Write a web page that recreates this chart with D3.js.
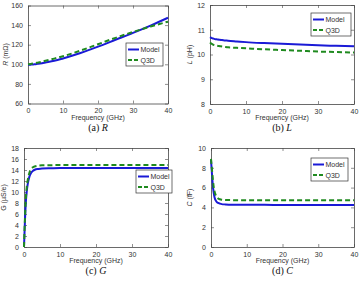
<!DOCTYPE html>
<html>
<head>
<meta charset="utf-8">
<script src="https://cdn.jsdelivr.net/npm/d3@7"></script>
<style>
  body { margin: 0; background: #fff; }
  svg { display: block; }
  .tick text { font-family: "Liberation Sans", Arial, sans-serif; font-size: 7px; fill: #333; }
  .lab { font-family: "Liberation Sans", Arial, sans-serif; font-size: 7px; fill: #333; }
  .cap { font-family: "Liberation Serif", "Times New Roman", serif; font-size: 10px; fill: #111; }
</style>
</head>
<body>
<svg width="359" height="286"></svg>
<script>
// frequency grid (GHz)
var freq = [0, 0.25, 0.5, 0.75, 1, 1.5, 2, 2.5, 3, 4, 5, 7.5, 10, 15, 20, 25, 30, 35, 40];

var rModel = [99.5, 99.5, 99.6, 99.6, 99.7, 99.9, 100.1, 100.3, 100.6, 101.1, 101.8, 103.6, 106, 111.5, 118, 125, 132, 139.5, 147.5];
var rQ3d   = [100, 100.1, 100.2, 100.3, 100.5, 100.8, 101.1, 101.5, 101.9, 102.7, 103.6, 105.8, 108.2, 114, 120.5, 127, 133, 138.5, 143.5];

var lModel = [10.7, 10.68, 10.66, 10.65, 10.64, 10.62, 10.61, 10.6, 10.59, 10.57, 10.56, 10.53, 10.5, 10.46, 10.43, 10.4, 10.37, 10.35, 10.33];
var lQ3d   = [10.48, 10.45, 10.43, 10.41, 10.39, 10.37, 10.35, 10.34, 10.33, 10.31, 10.29, 10.27, 10.25, 10.21, 10.18, 10.15, 10.12, 10.1, 10.08];

var gModel = [0, 4.5, 8, 10, 11.3, 12.8, 13.5, 13.85, 14.05, 14.2, 14.28, 14.32, 14.35, 14.35, 14.35, 14.35, 14.35, 14.35, 14.35];
var gQ3d   = [0, 5, 8.7, 10.8, 12, 13.5, 14.2, 14.5, 14.65, 14.8, 14.85, 14.88, 14.9, 14.9, 14.9, 14.9, 14.9, 14.9, 14.9];

var cModel = [8.8, 7.5, 6.3, 5.5, 5.0, 4.6, 4.45, 4.38, 4.33, 4.3, 4.28, 4.27, 4.26, 4.26, 4.25, 4.25, 4.25, 4.25, 4.25];
var cQ3d   = [8.9, 7.9, 6.9, 6.1, 5.6, 5.1, 4.9, 4.82, 4.78, 4.75, 4.74, 4.73, 4.73, 4.72, 4.72, 4.72, 4.72, 4.72, 4.72];

var xTicks = [0, 10, 20, 30, 40];
var seriesNames = ["Model", "Q3D"];

var svg = d3.select("svg");

function panel(p) {
  var x = d3.scaleLinear().domain([0, 40]).range([p.x0, p.x1]);
  var y = d3.scaleLinear().domain(p.ydom).range([p.y1, p.y0]);
  var g = svg.append("g");

  // axes, ticks inward
  g.append("g").attr("transform", "translate(0," + p.y1 + ")")
    .call(d3.axisBottom(x).tickValues(xTicks).tickFormat(d3.format("d")).tickSizeInner(-3).tickSizeOuter(0).tickPadding(5));
  g.append("g").attr("transform", "translate(" + p.x0 + ",0)")
    .call(d3.axisLeft(y).tickValues(p.yticks).tickFormat(d3.format("d")).tickSizeInner(-3).tickSizeOuter(0).tickPadding(5));
  g.append("g").attr("transform", "translate(0," + p.y0 + ")")
    .call(d3.axisTop(x).tickValues(xTicks).tickSizeInner(-3).tickSizeOuter(0).tickFormat(""));
  g.append("g").attr("transform", "translate(" + p.x1 + ",0)")
    .call(d3.axisRight(y).tickValues(p.yticks).tickSizeInner(-3).tickSizeOuter(0).tickFormat(""));
  g.selectAll(".domain").attr("stroke", "#444").attr("stroke-width", 0.8);
  g.selectAll(".tick line").attr("stroke", "#444").attr("stroke-width", 0.6);

  var line = d3.line().x(function(d, i) { return x(freq[i]); }).y(function(d) { return y(d); })
    .curve(d3.curveMonotoneX);

  g.append("path").attr("d", line(p.model)).attr("fill", "none")
    .attr("stroke", "#1a1ad6").attr("stroke-width", 2);
  g.append("path").attr("d", line(p.q3d)).attr("fill", "none")
    .attr("stroke", "#1f8a1f").attr("stroke-width", 2).attr("stroke-dasharray", "5,3");

  // labels
  g.append("text").attr("class", "lab").attr("text-anchor", "middle")
    .attr("x", (p.x0 + p.x1) / 2).attr("y", p.y1 + 16).text("Frequency (GHz)");
  var yl = g.append("text").attr("class", "lab").attr("text-anchor", "middle")
    .attr("transform", "translate(" + p.ylx + "," + ((p.y0 + p.y1) / 2) + ") rotate(-90)");
  yl.append("tspan").attr("font-style", p.yitalic ? "italic" : "normal").text(p.ysym);
  yl.append("tspan").text(" " + p.yunit);

  var cap = g.append("text").attr("class", "cap").attr("text-anchor", "middle")
    .attr("x", (p.x0 + p.x1) / 2).attr("y", p.y1 + 27);
  cap.append("tspan").text(p.cap + " ");
  cap.append("tspan").attr("font-style", "italic").text(p.ysym);

  // legend
  var lg = g.append("g").attr("transform", "translate(" + p.lx + "," + p.ly + ")");
  lg.append("rect").attr("width", p.lw).attr("height", 23).attr("fill", "#fff")
    .attr("stroke", "#333").attr("stroke-width", 0.7);
  seriesNames.forEach(function(n, i) {
    var yy = 6.5 + i * 10.5;
    lg.append("line").attr("x1", 2).attr("x2", 13).attr("y1", yy).attr("y2", yy)
      .attr("stroke", i == 0 ? "#1a1ad6" : "#1f8a1f").attr("stroke-width", 2)
      .attr("stroke-dasharray", i == 0 ? null : "4,2");
    lg.append("text").attr("class", "lab").attr("x", 14.5).attr("y", yy + 2.5).text(n);
  });
}

panel({ x0: 28, x1: 168, y0: 5.5, y1: 103.5, ydom: [60, 160], yticks: [60, 80, 100, 120, 140, 160],
  model: rModel, q3d: rQ3d, ysym: "R", yunit: "(mΩ)", yitalic: true, ylx: 8, cap: "(a)",
  lx: 126, ly: 43, lw: 37 });
panel({ x0: 210, x1: 354, y0: 5, y1: 104, ydom: [8, 12], yticks: [8, 9, 10, 11, 12],
  model: lModel, q3d: lQ3d, ysym: "L", yunit: "(pH)", yitalic: true, ylx: 192, cap: "(b)",
  lx: 311, ly: 13, lw: 40 });
panel({ x0: 24, x1: 168, y0: 148, y1: 247, ydom: [0, 18], yticks: [0, 2, 4, 6, 8, 10, 12, 14, 16, 18],
  model: gModel, q3d: gQ3d, ysym: "G", yunit: "(µS/e)", yitalic: false, ylx: 6, cap: "(c)",
  lx: 136, ly: 170, lw: 36 });
panel({ x0: 211, x1: 354, y0: 148, y1: 247, ydom: [0, 10], yticks: [0, 2, 4, 6, 8, 10],
  model: cModel, q3d: cQ3d, ysym: "C", yunit: "(fF)", yitalic: true, ylx: 192, cap: "(d)",
  lx: 311, ly: 158, lw: 37 });
</script>
</body>
</html>
